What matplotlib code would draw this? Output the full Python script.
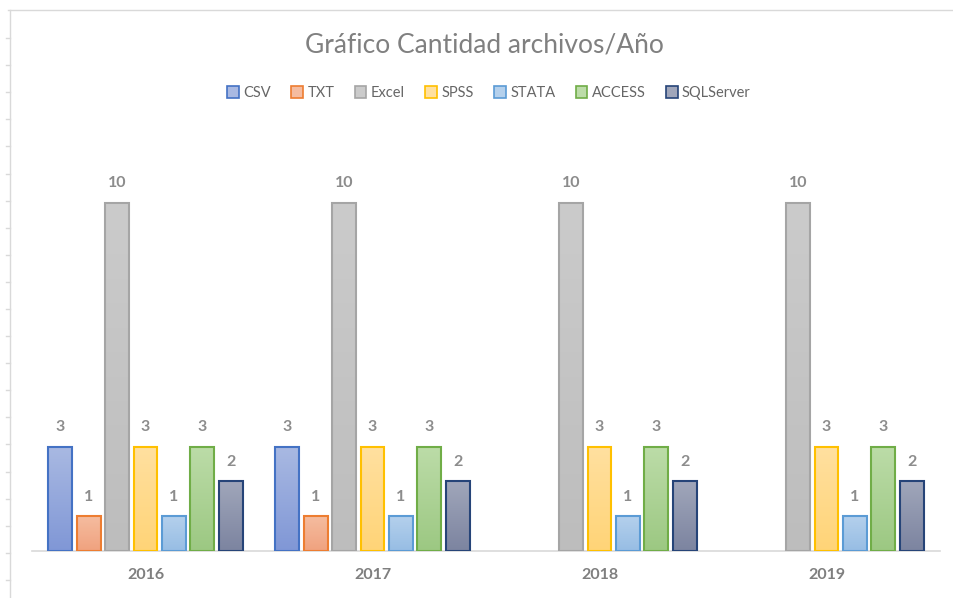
import numpy as np
import matplotlib
matplotlib.use("Agg")
import matplotlib.pyplot as plt
from matplotlib.colors import to_rgb
from matplotlib.lines import Line2D

plt.rcParams['font.family'] = ['Lato', 'DejaVu Sans']

years = ['2016', '2017', '2018', '2019']
series = ['CSV', 'TXT', 'Excel', 'SPSS', 'STATA', 'ACCESS', 'SQLServer']
csv = [3, 3, None, None]
txt = [1, 1, None, None]
excel = [10, 10, 10, 10]
spss = [3, 3, 3, 3]
stata = [1, 1, 1, 1]
access = [3, 3, 3, 3]
sqlserver = [2, 2, 2, 2]
values = [csv, txt, excel, spss, stata, access, sqlserver]

edges = ['#4472C4', '#ED7D31', '#A5A5A5', '#FFC000', '#5B9BD5', '#70AD47', '#264478']
tops = ['#A9B9E2', '#F5BCA0', '#CBCBCB', '#FFE0A0', '#B4D0EC', '#BCDCA8', '#A0A6BA']
bottoms = ['#8097D6', '#F0A27E', '#BDBDBD', '#FFD477', '#97BDE4', '#9CC882', '#7C84A0']

W, H = 954, 598
fig = plt.figure(figsize=(W / 100, H / 100), dpi=100)
ax = fig.add_axes([32 / W, 47 / H, 908 / W, 418 / H])
ax.set_xlim(-0.5, 3.5)
ax.set_ylim(0, 12)

slot = 1 / 8
bw = slot * 0.84
x = np.arange(len(years))
for k, (name, vals) in enumerate(zip(series, values)):
    pos = x - 0.5 + slot * (k + 1)
    for xi, v in zip(pos, vals):
        if v is None:
            continue
        bar = ax.bar(xi, v, bw, color='none', edgecolor=edges[k], linewidth=1.5, zorder=3)[0]
        grad = np.linspace(0, 1, 100).reshape(-1, 1)
        c1, c2 = np.array(to_rgb(bottoms[k])), np.array(to_rgb(tops[k]))
        img = c1 + (c2 - c1) * grad[:, :, None]
        im = ax.imshow(img, extent=[xi - bw / 2, xi + bw / 2, 0, v], origin='lower',
                       aspect='auto', zorder=2)
        im.set_clip_path(bar)
        ax.text(xi, v + 0.35, str(v), ha='center', va='bottom', fontsize=11.5,
                fontweight='bold', color='#8C8C8C', zorder=4)
    ax.bar(0, 0, 0, color=tops[k], edgecolor=edges[k], linewidth=1.2, label=name)

for sp in ['top', 'right', 'left']:
    ax.spines[sp].set_visible(False)
ax.spines['bottom'].set_color('#D9D9D9')
ax.spines['bottom'].set_linewidth(1.2)
ax.set_yticks([])
ax.set_xticks(x)
ax.set_xticklabels(years, fontsize=11.5, fontweight='bold', color='#7F7F7F')
ax.tick_params(axis='x', length=0, pad=12)

fig.text(484 / W, 1 - 45 / H, 'Gráfico Cantidad archivos/Año', ha='center', va='center',
         fontsize=19, color='#808080')
fig.legend(loc='center', bbox_to_anchor=(489 / W, 1 - 93 / H), ncol=7, frameon=False,
           fontsize=10.5, labelcolor='#666666', handlelength=0.8, handleheight=0.8,
           handletextpad=0.3, columnspacing=1.4)

# sheet border with ruler ticks on the left
line_c = '#D9D9D9'
fig.add_artist(Line2D([8 / W, 1], [1 - 10 / H, 1 - 10 / H], color=line_c, lw=1))
fig.add_artist(Line2D([10 / W, 10 / W], [0, 1 - 10 / H], color=line_c, lw=1))
for yp in np.arange(38, H, 27.1):
    fig.add_artist(Line2D([6 / W, 10 / W], [1 - yp / H, 1 - yp / H], color=line_c, lw=1))

fig.savefig('out.png', dpi=100)
